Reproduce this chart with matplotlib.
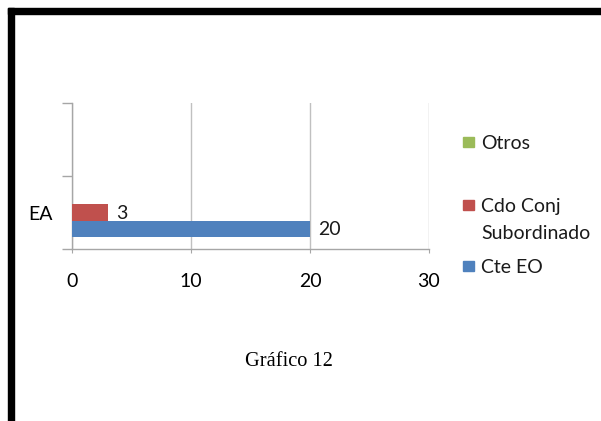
import matplotlib
matplotlib.use("Agg")
import matplotlib.pyplot as plt
import numpy as np
from matplotlib.patches import Rectangle

# data
categories = ["EA", ""]
series_names = ["Cte EO", "Cdo Conj\nSubordinado", "Otros"]
cte_eo = [20, np.nan]
cdo_conj = [3, np.nan]
otros = [np.nan, np.nan]
x_ticks = [0, 10, 20, 30]

series_values = [cte_eo, cdo_conj, otros]
series_colors = ["#4F81BD", "#C0504D", "#9BBB59"]

plt.rcParams["font.family"] = ["Lato", "DejaVu Sans"]

fig = plt.figure(figsize=(6.01, 4.21), dpi=100)
W, H = 601, 421
ax = fig.add_axes([72 / W, 1 - 249 / H, (429 - 72) / W, (249 - 103) / H])

positions = np.arange(len(categories))
bar_h = 0.22
for i, (vals, color) in enumerate(zip(series_values, series_colors)):
    offset = (i - 1) * bar_h
    for pos, val in zip(positions, vals):
        if np.isnan(val):
            continue
        ax.barh(pos + offset, val, height=bar_h, color=color, zorder=3)
        ax.annotate(f"{val:g}", (val, pos + offset), xytext=(6, -1),
                    textcoords="offset points", va="center", ha="left",
                    fontsize=14, color="#1a1a1a")

ax.set_xlim(0, 30)
ax.set_ylim(-0.5, len(categories) - 0.5)
ax.set_xticks(x_ticks)
ax.set_xticklabels([str(t) for t in x_ticks], fontsize=14)
ax.set_yticks(positions, categories, fontsize=14)
ax.set_yticks(np.arange(-0.5, len(categories), 1.0), minor=True)
ax.tick_params(axis="y", which="major", length=0, pad=14)
ax.tick_params(axis="y", which="minor", length=7, color="#A6A6A6", width=1)
ax.tick_params(axis="x", length=3, color="#A6A6A6", pad=14)
ax.xaxis.grid(True, color="#C0C0C0", linewidth=1, zorder=0)
ax.set_axisbelow(True)
for side in ("top", "right"):
    ax.spines[side].set_visible(False)
for side in ("left", "bottom"):
    ax.spines[side].set_color("#A6A6A6")
    ax.spines[side].set_linewidth(1)

# legend, drawn in reverse series order
legend_y = [142, 205, 266]
line_step = 27
for name, color, y in zip(series_names[::-1], series_colors[::-1], legend_y):
    fig.patches.append(Rectangle((463 / W, 1 - (y + 5) / H), 11 / W, 10 / H,
                                 transform=fig.transFigure, color=color))
    for k, line in enumerate(name.split("\n")):
        fig.text(481 / W, 1 - (y + 7 + k * line_step) / H, line, fontsize=14,
                 va="baseline", ha="left", color="#1a1a1a")

fig.text(289 / W, 1 - 362 / H, "Gráfico 12", family="Liberation Serif",
         fontsize=14.7, ha="center", va="center")

# black frame, top and left edges
fig.patches.append(Rectangle((8 / W, 1 - 14 / H), (W - 8) / W, 6 / H,
                             transform=fig.transFigure, color="black"))
fig.patches.append(Rectangle((8 / W, 0), 6 / W, 1 - 8 / H,
                             transform=fig.transFigure, color="black"))

fig.savefig("out.png", dpi=100, facecolor="white")
